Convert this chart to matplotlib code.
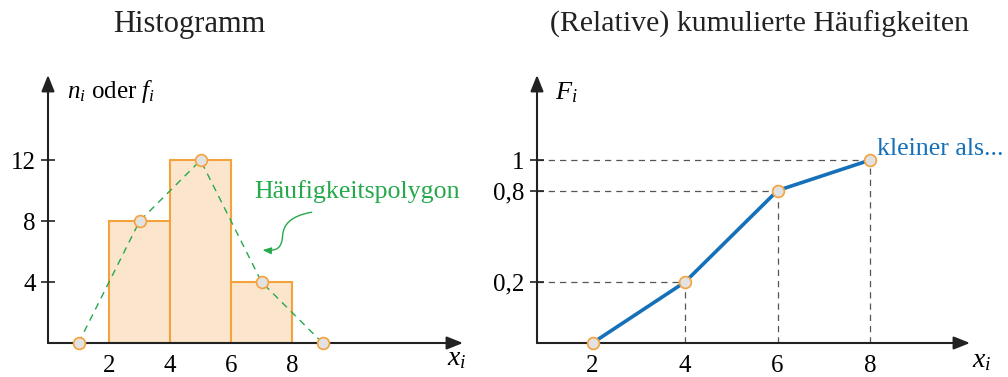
import numpy as np
import matplotlib
matplotlib.use("Agg")
import matplotlib.pyplot as plt
from matplotlib.patches import FancyArrowPatch
from matplotlib.path import Path
from matplotlib.ticker import NullLocator

plt.rcParams["font.family"] = "Liberation Serif"
plt.rcParams["mathtext.fontset"] = "custom"
plt.rcParams["mathtext.rm"] = "Liberation Serif"
plt.rcParams["mathtext.it"] = "Liberation Serif:italic"

# ── Data ─────────────────────────────────────────────────────
class_edges = [2, 4, 6, 8]
class_counts = [8, 12, 4]
poly_x = [1, 3, 5, 7, 9]
poly_n = [0, 8, 12, 4, 0]
hist_yticks = [4, 8, 12]
hist_xticks = [2, 4, 6, 8]

cum_x = [2, 4, 6, 8]
cum_F = [0, 0.2, 0.8, 1]
cum_yticks = [0.2, 0.8, 1]
cum_yticklabels = ["0,2", "0,8", "1"]

# sketch-style vertical spacing of the cumulative axis
F_levels = [0, 0.2, 0.8, 1, 2]
F_pos = [0, 1 / 3, 5 / 6, 1, 2]

# ── Style ────────────────────────────────────────────────────
ORANGE_EDGE = "#f4a23c"
ORANGE_FILL = "#fbe6cd"
DOT_FILL = "#e2e2e2"
GREEN = "#25a94b"
BLUE = "#1570ba"
AXIS = "#222222"
GUIDE = "#555555"
FS = 18

fig = plt.figure(figsize=(10.08, 3.77), dpi=100)
ax1 = fig.add_axes([48 / 1008, 34 / 377, 415 / 1008, 268 / 377])
ax2 = fig.add_axes([537 / 1008, 34 / 377, 433 / 1008, 268 / 377])


def arrow_axes(ax):
    for s in ax.spines.values():
        s.set_visible(False)
    props = dict(arrowstyle="-|>,head_length=0.7,head_width=0.28",
                 color=AXIS, lw=1.5, shrinkA=0, shrinkB=0,
                 mutation_scale=14)
    ax.annotate("", xy=(1, 0), xytext=(0, 0), xycoords="axes fraction",
                arrowprops=props, annotation_clip=False)
    ax.annotate("", xy=(0, 1), xytext=(0, 0), xycoords="axes fraction",
                arrowprops=props, annotation_clip=False)
    ax.tick_params(axis="y", direction="inout", length=10, width=1.2,
                   color=AXIS, labelsize=FS, pad=4)
    ax.tick_params(axis="x", length=0, labelsize=FS, pad=9)
    ax.set_facecolor("none")


# ── Histogram ────────────────────────────────────────────────
arrow_axes(ax1)
ax1.set_xlim(0, 13.6)
ax1.set_ylim(0, 17.6)
ax1.bar(class_edges[:-1], class_counts, width=np.diff(class_edges),
        align="edge", color=ORANGE_FILL, edgecolor=ORANGE_EDGE,
        linewidth=1.5, zorder=1)
ax1.plot(poly_x, poly_n, color=GREEN, lw=1.0, dashes=(5, 4), zorder=2)
ax1.plot(poly_x, poly_n, ls="none", marker="o", ms=8.5, mfc=DOT_FILL,
         mec=ORANGE_EDGE, mew=1.2, zorder=3, clip_on=False)
ax1.set_xticks(hist_xticks)
ax1.set_yticks(hist_yticks)

ax1.text(6.77, 9.5, "Häufigkeitspolygon", color=GREEN, fontsize=18.6,
         va="baseline", ha="left")
curve = Path([(8.64, 8.59), (7.92, 8.33), (7.72, 7.74), (7.69, 7.08),
              (7.66, 6.23), (7.52, 6.03), (7.03, 6.10)],
             [Path.MOVETO, Path.CURVE4, Path.CURVE4, Path.CURVE4,
              Path.CURVE4, Path.CURVE4, Path.CURVE4])
ax1.add_patch(FancyArrowPatch(path=curve, arrowstyle="-|>,head_length=0.5,head_width=0.2",
                              mutation_scale=10, color=GREEN, lw=1.0))

ax1.text(0.045, 0.914, r"$n_i$ oder $f_i$", transform=ax1.transAxes,
         fontsize=FS, va="baseline", ha="left")
ax1.text(0.962, -0.082, r"$x_i$", transform=ax1.transAxes,
         fontsize=FS + 2, va="baseline", ha="left")

# ── Cumulative frequencies ───────────────────────────────────
arrow_axes(ax2)
ax2.set_yscale("function", functions=(lambda v: np.interp(v, F_levels, F_pos),
                                      lambda p: np.interp(p, F_pos, F_levels)))
ax2.set_xlim(0.8, 10.16)
ax2.set_ylim(0, 1.465)
ax2.yaxis.set_minor_locator(NullLocator())

for x, F in zip(cum_x[1:], cum_F[1:]):
    ax2.plot([0.8, x], [F, F], color=GUIDE, lw=0.9, dashes=(5, 4), zorder=1)
    ax2.plot([x, x], [0, F], color=GUIDE, lw=0.9, dashes=(5, 4), zorder=1)

ax2.plot(cum_x, cum_F, color=BLUE, lw=2.6, zorder=2, solid_capstyle="round")
ax2.plot(cum_x, cum_F, ls="none", marker="o", ms=8.5, mfc=DOT_FILL,
         mec=ORANGE_EDGE, mew=1.2, zorder=3, clip_on=False)
ax2.set_xticks(cum_x)
ax2.set_yticks(cum_yticks)
ax2.set_yticklabels(cum_yticklabels)

ax2.text(8.15, 1.03, "kleiner als...", color=BLUE, fontsize=18.6,
         va="baseline", ha="left")
ax2.text(0.042, 0.91, r"$F_i$", transform=ax2.transAxes,
         fontsize=FS + 1, va="baseline", ha="left")
ax2.text(1.005, -0.09, r"$x_i$", transform=ax2.transAxes,
         fontsize=FS + 2, va="baseline", ha="left")

# ── Titles ───────────────────────────────────────────────────
fig.text(189 / 1008, 1 - 32 / 377, "Histogramm", fontsize=22,
         ha="center", va="baseline", color="#222222")
fig.text(759 / 1008, 1 - 32 / 377, "(Relative) kumulierte Häufigkeiten",
         fontsize=21.5, ha="center", va="baseline", color="#222222")

fig.savefig("out.png", dpi=100)
